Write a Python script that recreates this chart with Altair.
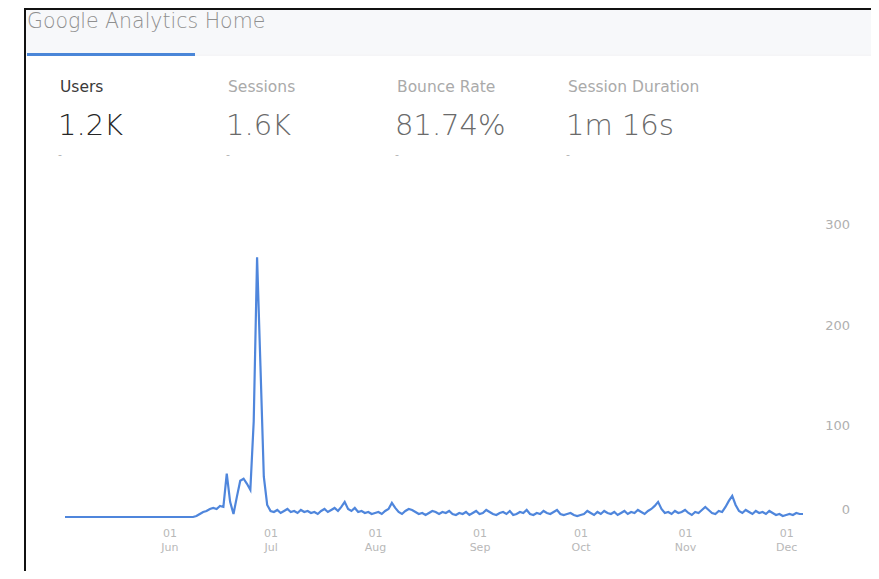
import altair as alt
import pandas as pd

# ---------------- data ----------------
start_date = "2018-05-01"
users = (
    [0] * 39
    + [1, 3, 5, 6, 8, 9, 8, 11, 10, 43, 15, 3, 20, 36, 38, 33, 27, 95, 258, 150, 40, 12, 6]
    + [5, 7, 4, 6, 8, 5, 6, 4, 7, 5]
    + [6, 4, 5, 3, 6, 8, 5, 7, 9, 6]
    + [10, 15, 8, 6, 9, 5, 6, 4, 5, 3]
    + [4, 5, 3, 6, 8, 14, 9, 5, 3, 6]
    + [8, 7, 5, 3, 4, 2, 4, 6, 5, 3]
    + [5, 4, 6, 3, 2, 4, 3, 5, 2, 4]
    + [6, 3, 4, 7, 5, 3, 2, 4, 5, 3]
    + [6, 2, 3, 5, 4, 7, 3, 2, 4, 3]
    + [6, 4, 3, 5, 7, 3, 2, 3, 4, 2]
    + [1, 2, 3, 6, 4, 2, 5, 3, 6, 4]
    + [3, 5, 2, 4, 6, 3, 5, 4, 7, 5]
    + [3, 6, 8, 11, 15, 8, 4, 5, 3, 6]
    + [4, 5, 7, 4, 2, 5, 4, 7, 10, 7]
    + [4, 3, 6, 5, 10, 16, 21, 12, 6, 4]
    + [7, 5, 3, 6, 4, 5, 3, 6, 4, 2]
    + [3, 1, 2, 3, 2, 4, 3, 3]
)
dates = pd.date_range(start_date, periods=len(users), freq="D").strftime("%Y-%m-%d").tolist()

y_ticks = [0, 100, 200, 300]
y_tick_labels = ["0", "100", "200", "300"]
month_ticks = [(2018, m) for m in [6, 7, 8, 9, 10, 11, 12]]

title_text = "Google Analytics Home"
metric_labels = ["Users", "Sessions", "Bounce Rate", "Session Duration"]
metric_values = ["1.2K", "1.6K", "81.74%", "1m 16s"]

df = pd.DataFrame({"date": dates, "users": users})
ticks_df = pd.DataFrame({"v": y_ticks, "label": y_tick_labels})
one = pd.DataFrame({"a": [0]})

FONT = "DejaVu Sans"
W, H = 738, 302

x_scale = alt.Scale(type="utc", nice=False)
y_scale = alt.Scale(domain=[0, 300], nice=False)

x_axis = alt.Axis(
    title=None,
    values=[alt.DateTime(year=y, month=m, date=1, utc=True) for y, m in month_ticks],
    labelExpr="[utcFormat(datum.value, '%d'), utcFormat(datum.value, '%b')]",
    labelColor="#b8b8b8",
    labelFont=FONT,
    labelFontSize=11,
    labelLineHeight=14,
    labelPadding=10,
    domain=False,
    ticks=False,
    grid=False,
)
y_axis = alt.Axis(
    title=None,
    values=y_ticks,
    labels=False,
    domain=False,
    ticks=False,
    grid=True,
    gridColor="#f0f0f0",
    gridWidth=1,
    orient="right",
)

# ---------------- background pieces ----------------
header_band = alt.Chart(one).mark_rect(color="#f7f8fa").encode(
    x=alt.value(-40), x2=alt.value(812), y=alt.value(-207), y2=alt.value(-161)
)
header_sep = alt.Chart(one).mark_rule(color="#ececf0", strokeWidth=1).encode(
    x=alt.value(-40), x2=alt.value(812), y=alt.value(-160)
)
tab_line = alt.Chart(one).mark_rect(color="#4a86d8").encode(
    x=alt.value(-38), x2=alt.value(130), y=alt.value(-162), y2=alt.value(-159)
)
left_border = alt.Chart(one).mark_rule(color="#111111", strokeWidth=2).encode(
    x=alt.value(-40), y=alt.value(-207), y2=alt.value(356)
)
top_border = alt.Chart(one).mark_rule(color="#111111", strokeWidth=2).encode(
    x=alt.value(-40), x2=alt.value(814), y=alt.value(-206)
)
right_border = alt.Chart(one).mark_rule(color="#e8e8e8", strokeWidth=1).encode(
    x=alt.value(811), y=alt.value(-160), y2=alt.value(356)
)

title = alt.Chart(one).mark_text(
    text=title_text, font=FONT, fontSize=20.5, fontWeight=300, color="#8f8f8f",
    align="left", baseline="middle"
).encode(x=alt.value(-38), y=alt.value(-193))

metric_x = [-5, 163, 332, 503]
texts = []
for i, (lab, val) in enumerate(zip(metric_labels, metric_values)):
    sel = i == 0
    texts.append(
        alt.Chart(one).mark_text(
            text=lab, font=FONT, fontSize=15.5, fontWeight=400,
            color="#3a3a3a" if sel else "#aaaaaa", align="left", baseline="middle",
        ).encode(x=alt.value(metric_x[i]), y=alt.value(-128))
    )
    texts.append(
        alt.Chart(one).mark_text(
            text=val, font=FONT, fontSize=29, fontWeight=200,
            color="#262626" if sel else "#6a6a6a", align="left", baseline="middle",
        ).encode(x=alt.value(metric_x[i] - 2), y=alt.value(-89))
    )
    texts.append(
        alt.Chart(one).mark_text(
            text="-", font=FONT, fontSize=11, color="#b4b4b4", align="left", baseline="middle",
        ).encode(x=alt.value(metric_x[i] - 2), y=alt.value(-60))
    )

# ---------------- chart ----------------
line = alt.Chart(df).mark_line(color="#4f86dc", strokeWidth=2.2, interpolate="linear").encode(
    x=alt.X("date:T", scale=x_scale, axis=x_axis),
    y=alt.Y("users:Q", scale=y_scale, axis=y_axis),
)

ylab_upper = alt.Chart(ticks_df).transform_filter("datum.v > 0").mark_text(
    font=FONT, fontSize=13, color="#b0b0b0", align="right", baseline="middle", dy=10
).encode(x=alt.value(785), y=alt.Y("v:Q", scale=y_scale, axis=None), text="label:N")
ylab_zero = alt.Chart(ticks_df).transform_filter("datum.v == 0").mark_text(
    font=FONT, fontSize=13, color="#b0b0b0", align="right", baseline="middle", dy=-7
).encode(x=alt.value(785), y=alt.Y("v:Q", scale=y_scale, axis=None), text="label:N")

chart = alt.layer(
    header_band, header_sep, tab_line, right_border, title, *texts,
    line, ylab_upper, ylab_zero, left_border, top_border,
).properties(
    width=W, height=H,
    padding={"left": 57, "top": 207, "right": 68, "bottom": 54},
    autosize=alt.AutoSizeParams(type="none"),
    background="white",
).configure_view(stroke=None)

chart.save("out.html", embed_options={"renderer": "svg", "actions": False})
